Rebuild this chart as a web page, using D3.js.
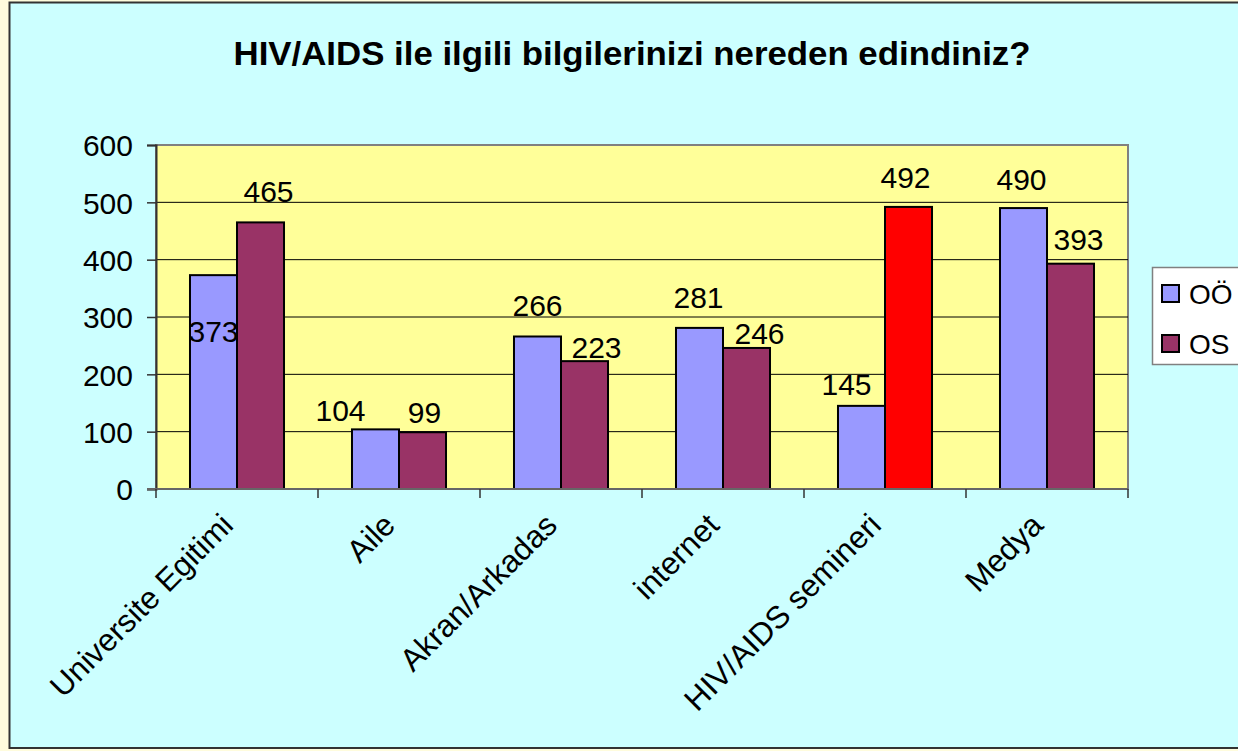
<!DOCTYPE html>
<html><head><meta charset="utf-8">
<script src="https://cdn.jsdelivr.net/npm/d3@7"></script>
<style>
html,body{margin:0;padding:0;background:#FFFCDD;}
svg{display:block;font-family:"Liberation Sans",Arial,sans-serif;}
</style></head>
<body>
<svg id="c" width="1238" height="751"></svg>
<script>
const title = "HIV/AIDS ile ilgili bilgilerinizi nereden edindiniz?";
const categories = ["Universite Egitimi","Aile","Akran/Arkadas","internet","HIV/AIDS semineri","Medya"];
const seriesNames = ["OÖ","OS"];
const valuesOO = [373,104,266,281,145,490];
const valuesOS = [465,99,223,246,492,393];
const yTicks = [0,100,200,300,400,500,600];
const seriesColors = ["#9999FF","#993366"];
const highlightColor = "#FF0000"; // OS bar of "HIV/AIDS semineri"
// manual label nudges [dx, dy] per series/category (as placed in the original)
const nudgeOO = [[0,87],[-35,12],[0,0],[-1,0],[-15,9],[-2,2]];
const nudgeOS = [[8,0],[2,11],[12,17],[13,16],[-3,1],[8,6]];

const svg = d3.select("#c");
// chart area
svg.append("rect").attr("x",9.5).attr("y",2.5).attr("width",1240).attr("height",745.5)
  .attr("fill","#CCFFFF").attr("stroke","#333333").attr("stroke-width",2);

const L=156, R=1128, T=145, B=489;
const x0 = d3.scaleBand().domain(categories).range([L,R]).padding(0);
const x1 = d3.scaleBand().domain(seriesNames).range([0,x0.bandwidth()]).paddingInner(0).paddingOuter(0.723);
const y = d3.scaleLinear().domain([0,600]).range([B,T]);

// plot area
svg.append("rect").attr("x",L).attr("y",T).attr("width",R-L).attr("height",B-T)
  .attr("fill","#FFFF99").attr("stroke","#808080").attr("stroke-width",2);
// gridlines
svg.append("g").selectAll("line").data(yTicks.filter(d=>d>0&&d<600)).join("line")
  .attr("x1",L).attr("x2",R).attr("y1",d=>y(d)).attr("y2",d=>y(d))
  .attr("stroke","#000").attr("stroke-width",1);

// title
svg.append("text").attr("x",632).attr("y",65).attr("text-anchor","middle")
  .attr("font-size",34).attr("font-weight","bold").attr("fill","#000")
  .attr("textLength",797).attr("lengthAdjust","spacingAndGlyphs").text(title);

// bars
const rows = categories.map((c,i)=>({c,i,vals:[valuesOO[i],valuesOS[i]]}));
const g = svg.append("g");
rows.forEach(r=>{
  r.vals.forEach((v,s)=>{
    const fill = (s===1 && r.c==="HIV/AIDS semineri") ? highlightColor : seriesColors[s];
    g.append("rect").attr("x",x0(r.c)+x1(seriesNames[s])).attr("y",y(v))
      .attr("width",x1.bandwidth()).attr("height",y(0)-y(v))
      .attr("fill",fill).attr("stroke","#000").attr("stroke-width",2);
  });
});
// labels
rows.forEach(r=>{
  r.vals.forEach((v,s)=>{
    const n = (s===0?nudgeOO:nudgeOS)[r.i];
    g.append("text").attr("x",x0(r.c)+x1(seriesNames[s])+x1.bandwidth()/2+n[0])
      .attr("y",y(v)-20+n[1]).attr("text-anchor","middle").attr("font-size",30)
      .attr("fill","#000").text(v);
  });
});

// y axis
const yAxis = d3.axisLeft(y).tickValues(yTicks).tickSize(9).tickPadding(14);
const ya = svg.append("g").attr("transform",`translate(${L},0)`).call(yAxis);
ya.select(".domain").attr("stroke","#333").attr("stroke-width",2);
ya.selectAll(".tick line").attr("stroke","#333").attr("stroke-width",1.5);
ya.selectAll(".tick text").attr("font-size",30).attr("fill","#000").attr("font-family","Liberation Sans, Arial, sans-serif").attr("dy","0.36em");

// x axis
const xa = svg.append("g").attr("transform",`translate(0,${B})`);
xa.append("line").attr("x1",L-9).attr("x2",R).attr("y1",0).attr("y2",0).attr("stroke","#666").attr("stroke-width",2);
const bounds = categories.map(c=>x0(c)).concat([R]);
xa.selectAll("line.t").data(bounds).join("line").attr("class","t")
  .attr("x1",d=>d).attr("x2",d=>d).attr("y1",0).attr("y2",9).attr("stroke","#333").attr("stroke-width",1.5);
xa.selectAll("text").data(categories).join("text")
  .attr("transform",d=>`translate(${x0(d)+x0.bandwidth()/2-2},${38}) rotate(-45)`)
  .attr("text-anchor","end").attr("font-size",31.5).attr("fill","#000").text(d=>d);

// legend
const lg = svg.append("g");
lg.append("rect").attr("x",1152.5).attr("y",267.5).attr("width",120).attr("height",97)
  .attr("fill","#fff").attr("stroke","#808080").attr("stroke-width",1.5);
seriesNames.forEach((s,i)=>{
  lg.append("rect").attr("x",1162).attr("y",285+i*50).attr("width",17).attr("height",17)
    .attr("fill",seriesColors[i]).attr("stroke","#000").attr("stroke-width",2);
  lg.append("text").attr("x",1189).attr("y",304+i*50).attr("font-size",28).attr("fill","#000").text(s);
});
</script>
</body></html>
